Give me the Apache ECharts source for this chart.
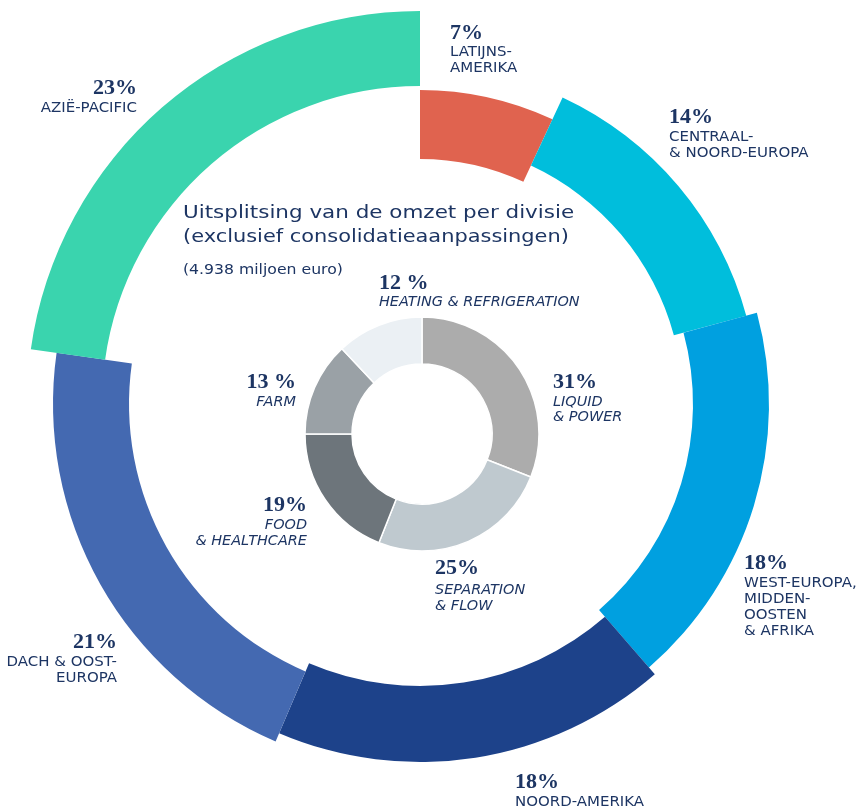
<!DOCTYPE html>
<html>
<head>
<meta charset="utf-8">
<script src="https://cdn.jsdelivr.net/npm/echarts@6/dist/echarts.min.js"></script>
<style>
html,body{margin:0;padding:0;background:#fff;}
#chart{width:856px;height:808px;}
</style>
</head>
<body>
<div id="chart"></div>
<script>
// ---- data ----
const regionNames = ['LATIJNS-\nAMERIKA', 'CENTRAAL-\n& NOORD-EUROPA', 'WEST-EUROPA,\nMIDDEN-\nOOSTEN\n& AFRIKA', 'NOORD-AMERIKA', 'DACH & OOST-\nEUROPA', 'AZIË-PACIFIC'];
const regionShares = [7, 14, 18, 18, 21, 23];
const divisionNames = ['LIQUID\n& POWER', 'SEPARATION\n& FLOW', 'FOOD\n& HEALTHCARE', 'FARM', 'HEATING & REFRIGERATION'];
const divisionShares = [31, 25, 19, 13, 12];
const divisionPctSep = ['', '', '', ' ', ' '];
const titleLines = ['Uitsplitsing van de omzet per divisie', '(exclusief consolidatieaanpassingen)'];
const subtitle = '(4.938 miljoen euro)';

// ---- styles / layout ----
const regionColors = ['#e0634f', '#00bedc', '#00a0e0', '#1d428a', '#4469b1', '#3ad4ae'];
const outerCenter = [420, 404];
const regionRadii = [ // inner r, outer r per segment
  [245, 314],
  [263, 338],
  [273, 349],
  [282, 358],
  [291, 367],
  [318, 393]
];
const divisionColors = ['#acacac', '#bfc9cf', '#6d757b', '#9aa1a6', '#ebf0f4'];
const textColor = '#1d3563';
const pctFont = 'bold 22px "Liberation Serif", serif';
const catFont = '14px "DejaVu Sans", sans-serif';
const catItalic = 'italic 13.5px "DejaVu Sans", sans-serif';

// label anchor positions: [x, pctY, firstCatY, lineStep, align]
const regionLabelPos = [
  [450, 33, 52.5, 15.5, 'left'],
  [669, 117, 137, 16, 'left'],
  [744, 563, 583, 16, 'left'],
  [515, 782, 802, 16, 'left'],
  [117, 642, 662, 16, 'right'],
  [137, 88, 108, 16, 'right']
];
const divisionLabelPos = [
  [553, 382, 402, 15.5, 'left'],
  [435, 568, 590.5, 15.5, 'left'],
  [307, 505, 525, 16.5, 'right'],
  [296, 382, 402, 16, 'right'],
  [379, 283, 302, 16, 'left']
];

const series = [];
regionShares.forEach((v, i) => {
  const r = regionRadii[i];
  series.push({
    type: 'pie',
    silent: true,
    animation: false,
    startAngle: 90,
    clockwise: true,
    center: outerCenter,
    radius: [r[0], r[1]],
    label: { show: false },
    labelLine: { show: false },
    emphasis: { disabled: true },
    itemStyle: { borderWidth: 0 },
    data: regionNames.map((n, j) => ({
      name: n,
      value: regionShares[j],
      itemStyle: { color: j === i ? regionColors[i] : 'rgba(0,0,0,0)' }
    }))
  });
});
series.push({
  type: 'pie',
  silent: true,
  animation: false,
  startAngle: 90,
  clockwise: true,
  center: [422, 434],
  radius: [70, 117],
  label: { show: false },
  labelLine: { show: false },
  emphasis: { disabled: true },
  itemStyle: { borderColor: '#ffffff', borderWidth: 1.5 },
  data: divisionNames.map((n, j) => ({ name: n, value: divisionShares[j], itemStyle: { color: divisionColors[j] } }))
});

const graphics = [];
function addLabel(pos, pct, lines, font) {
  graphics.push({ type: 'text', x: pos[0], y: pos[1], silent: true,
    style: { text: pct, font: pctFont, fill: textColor, align: pos[4], verticalAlign: 'middle' } });
  lines.forEach((ln, k) => {
    graphics.push({ type: 'text', x: pos[0], y: pos[2] + k * pos[3], silent: true, scaleX: 1.07,
      style: { text: ln, font: font, fill: textColor, align: pos[4], verticalAlign: 'middle' } });
  });
}
regionShares.forEach((v, i) => addLabel(regionLabelPos[i], v + '%', regionNames[i].split('\n'), catFont));
divisionShares.forEach((v, i) => addLabel(divisionLabelPos[i], v + divisionPctSep[i] + '%', divisionNames[i].split('\n'), catItalic));

graphics.push({ type: 'text', x: 183, y: 213.5, silent: true, scaleX: 1.16,
  style: { text: titleLines[0], font: '18.5px "DejaVu Sans", sans-serif', fill: textColor, verticalAlign: 'middle' } });
graphics.push({ type: 'text', x: 183, y: 237.5, silent: true, scaleX: 1.13,
  style: { text: titleLines[1], font: '18.5px "DejaVu Sans", sans-serif', fill: textColor, verticalAlign: 'middle' } });
graphics.push({ type: 'text', x: 183, y: 270, silent: true, scaleX: 1.12,
  style: { text: subtitle, font: '14px "DejaVu Sans", sans-serif', fill: textColor, verticalAlign: 'middle' } });

const chart = echarts.init(document.getElementById('chart'), null, { renderer: 'canvas' });
chart.setOption({
  backgroundColor: '#ffffff',
  animation: false,
  series: series,
  graphic: graphics
});
</script>
</body>
</html>
